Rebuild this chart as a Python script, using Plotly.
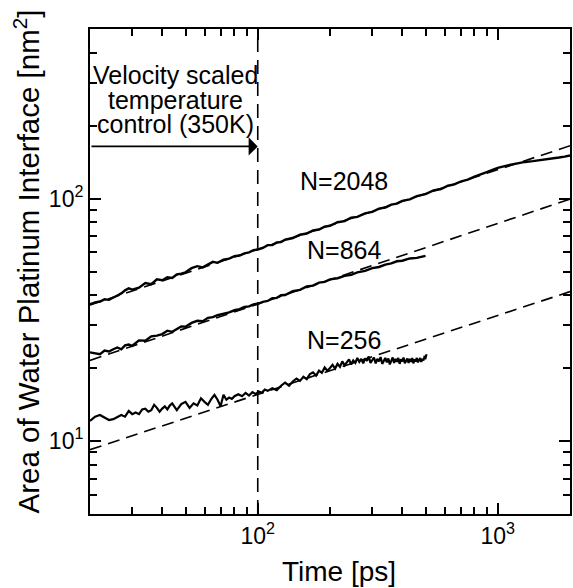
import math
import plotly.graph_objects as go

# ---------------- data ----------------
t_2048 = [20, 21, 22, 23, 24, 25, 26, 27, 28, 29, 30, 32, 34, 36, 38, 40, 42, 44, 46, 48, 50,
          53, 56, 59, 62, 65, 68, 72, 76, 80, 84, 88, 92, 96, 100,
          105, 110, 115, 120, 125, 130, 140, 150, 160, 170, 180, 190, 200, 215, 230, 245, 260,
          280, 300, 320, 340, 360, 380, 400, 430, 460, 500, 540, 580, 620, 660, 700, 750, 800,
          850, 900, 950, 1000, 1100, 1200, 1300, 1400, 1500, 1600, 1700, 1800, 1900, 2000]
a_2048 = [36.6, 37.3, 37.6, 38.4, 38.2, 38.9, 39.8, 40.6, 41.8, 42.6, 42.1, 42.9, 44.8, 44.3, 46.4,
          46.0, 47.3, 47.0, 48.6, 49.0, 49.6,
          51.6, 52.6, 52.0, 53.6, 54.8, 54.3, 55.9, 56.5, 57.8, 58.2, 59.4, 60.0, 61.2, 61.6,
          62.5, 64.2, 64.3, 65.9, 66.1, 67.6, 68.7, 70.9, 71.7, 73.8, 74.5, 76.6, 77.2, 79.8, 80.7,
          83.3, 84.0, 86.9, 88.1, 90.9, 91.8, 94.4, 95.2, 97.8, 99.2, 102.3, 104.2, 107.9, 109.4,
          112.9, 114.3, 117.5, 119.6, 123.0, 125.4, 128.6, 131.2, 133.8, 137.0, 139.8, 141.5,
          142.6, 143.7, 145.2, 146.3, 147.6, 148.9, 150.5]

t_864 = [20, 21, 22, 23, 24, 25, 26, 27, 28, 29, 30, 32, 34, 36, 38, 40, 42, 44, 46, 48, 50,
         53, 56, 59, 62, 65, 68, 72, 76, 80, 84, 88, 92, 96, 100,
         105, 110, 115, 120, 125, 130, 140, 150, 160, 170, 180, 190, 200, 215, 230, 245, 260,
         280, 300, 320, 340, 360, 380, 400, 430, 460, 500]
a_864 = [23.2, 23.0, 22.8, 23.6, 23.4, 23.9, 24.3, 23.9, 24.8, 25.0, 24.7, 26.0, 25.9, 27.0, 27.2,
         27.6, 28.5, 28.2, 28.9, 29.7, 29.6,
         30.7, 31.3, 31.2, 32.2, 32.4, 33.0, 33.4, 33.9, 34.6, 35.0, 35.7, 35.9, 36.6, 36.8,
         37.5, 37.8, 38.8, 38.9, 39.9, 40.0, 41.5, 42.0, 43.4, 43.7, 45.0, 45.3, 46.4, 46.9,
         48.0, 48.4, 49.6, 50.3, 51.6, 52.2, 53.4, 54.0, 55.1, 55.4, 56.6, 56.9, 58.0]

t_256 = [20, 21, 22, 23, 24, 25, 26, 27, 28, 29, 30, 31, 32, 33, 34, 35, 36, 37, 38, 39, 40,
         41, 42, 43, 44, 45, 46, 48, 50, 52, 54, 56, 58, 60, 62, 64, 66, 68, 70, 72, 74, 76,
         78, 80, 83, 86, 89, 92, 95, 98, 101, 104, 107,
         110, 115, 120, 125, 130, 135, 140, 145, 150, 155, 160, 165, 170, 175, 180, 185, 190,
         195, 200, 205, 210, 215, 220, 225, 230, 235, 240, 245, 250, 255, 260, 265, 270, 275,
         280, 285, 290, 295, 300, 305, 310, 315, 320, 325, 330, 335, 340, 345, 350, 355, 360,
         365, 370, 375, 380, 385, 390, 395, 400, 405, 410, 415, 420, 425, 430, 435, 440, 445,
         450, 455, 460, 465, 470, 475, 480, 485, 490, 495, 500, 505]
a_256 = [12.1, 12.6, 12.8, 12.5, 12.2, 12.3, 12.6, 12.8, 12.6, 13.3, 12.9, 13.1, 12.9, 13.5,
         13.6, 13.2, 13.4, 14.1, 13.7, 13.2, 13.6, 13.9, 13.5, 14.0, 14.3, 13.8, 13.4, 14.2,
         14.5, 13.7, 14.3, 14.0, 15.0, 14.5, 14.1, 14.9, 15.5, 14.8, 13.9, 15.5, 14.8, 15.1,
         14.9, 15.3, 15.6, 15.3, 15.8, 15.4, 15.9, 15.6, 16.0, 15.8, 16.3,
         16.1, 16.5, 16.2, 16.9, 17.4, 16.9, 17.6, 18.1, 17.7, 18.4, 18.0, 18.9, 19.2, 18.6,
         19.5, 19.1, 20.1, 19.5, 20.0, 20.6, 19.9, 20.8, 20.2, 21.3, 20.5, 21.1, 21.7, 20.7,
         21.5, 21.0, 22.0, 21.2, 21.8, 20.9, 21.9, 21.4, 22.3, 21.0, 21.7, 22.1, 20.9, 21.8,
         21.3, 22.2, 20.8, 21.6, 22.0, 21.1, 21.9, 20.7, 21.5, 22.1, 21.0, 21.8, 21.2, 22.0,
         20.8, 21.7, 21.3, 22.1, 20.9, 21.6, 21.9, 21.0, 21.8, 21.2, 22.0, 20.9, 21.7, 21.3,
         22.0, 21.1, 21.6, 22.0, 21.2, 21.8, 21.5, 22.2, 22.0, 22.8]

# power-law fits (dashed), end points
fit_t = [20, 2000]
fit_2048 = [36.4, 165.0]
fit_864 = [21.5, 99.4]
fit_256 = [9.21, 41.3]

control_end_time = 100      # end of velocity-scaled temperature control [ps]
arrow_level = 164           # height of the arrow [nm^2]

x_range = [20, 2000]
y_range = [5, 500]
x_major = [100, 1000]
x_major_text = ["10<sup>2</sup>", "10<sup>3</sup>"]
x_minor = [30, 40, 50, 60, 70, 80, 90, 200, 300, 400, 500, 600, 700, 800, 900]
y_major = [10, 100]
y_major_text = ["10<sup>1</sup>", "10<sup>2</sup>"]
y_minor = [6, 7, 8, 9, 20, 30, 40, 50, 60, 70, 80, 90, 200, 300, 400]

labels = ["N=2048", "N=864", "N=256"]
label_pos = [(228, 118.3), (228, 61.4), (228, 26.0)]
control_lines = ["Velocity scaled", "temperature", "control (350K)"]
control_pos = [(45.5, 323), (45.5, 255), (45.5, 203)]

FONT = "Liberation Sans, Arial, sans-serif"
L = math.log10

fig = go.Figure()
dash = "12px,7px"
for fy in (fit_2048, fit_864, fit_256):
    fig.add_trace(go.Scatter(x=fit_t, y=fy, mode="lines",
                             line=dict(color="black", width=1.6, dash=dash),
                             showlegend=False, hoverinfo="skip"))
for tt, aa, w in ((t_2048, a_2048, 2.4), (t_864, a_864, 2.4), (t_256, a_256, 2.2)):
    fig.add_trace(go.Scatter(x=tt, y=aa, mode="lines",
                             line=dict(color="black", width=w),
                             showlegend=False))
fig.add_trace(go.Scatter(x=[control_end_time, control_end_time], y=y_range, mode="lines",
                         line=dict(color="black", width=1.6, dash="14px,8px"),
                         showlegend=False, hoverinfo="skip"))

axis_common = dict(type="log", showline=True, linewidth=2, linecolor="black",
                   mirror="ticks", ticks="inside", ticklen=11, tickwidth=1.5,
                   tickcolor="black", showgrid=False, zeroline=False,
                   tickfont=dict(family=FONT, size=23, color="black"))

fig.update_xaxes(range=[L(x_range[0]), L(x_range[1])], tickmode="array",
                 tickvals=x_major, ticktext=x_major_text,
                 minor=dict(tickmode="array", tickvals=x_minor, ticks="inside",
                            ticklen=7, tickwidth=1.5, tickcolor="black", showgrid=False),
                 **axis_common)
fig.update_yaxes(range=[L(y_range[0]), L(y_range[1])], tickmode="array",
                 tickvals=y_major, ticktext=y_major_text,
                 minor=dict(tickmode="array", tickvals=y_minor, ticks="inside",
                            ticklen=7, tickwidth=1.5, tickcolor="black", showgrid=False),
                 **axis_common)

ann = []
for txt, (px, py) in zip(labels, label_pos):
    ann.append(dict(x=L(px), y=L(py), xref="x", yref="y", text=txt, showarrow=False,
                    font=dict(family=FONT, size=25, color="black"),
                    xanchor="center", yanchor="middle"))
for txt, (px, py) in zip(control_lines, control_pos):
    ann.append(dict(x=L(px), y=L(py), xref="x", yref="y", text=txt, showarrow=False,
                    font=dict(family=FONT, size=25, color="black"),
                    xanchor="center", yanchor="middle"))
# arrow from the left edge to the end of temperature control
ann.append(dict(x=L(control_end_time), y=L(arrow_level), ax=L(x_range[0]), ay=L(arrow_level),
                xref="x", yref="y", axref="x", ayref="y", text="", showarrow=True,
                arrowhead=1, arrowsize=1.9, arrowwidth=1.6, arrowcolor="black", standoff=0))
# axis titles
ann.append(dict(x=-0.132, y=0.52, xref="paper", yref="paper",
                text="Area of Water Platinum Interface [nm<sup>2</sup>]", textangle=-90,
                showarrow=False, font=dict(family=FONT, size=29.5, color="black"),
                xanchor="center", yanchor="middle"))
ann.append(dict(x=0.519, y=-0.118, xref="paper", yref="paper", text="Time [ps]",
                showarrow=False, font=dict(family=FONT, size=28, color="black"),
                xanchor="center", yanchor="middle"))

fig.update_layout(width=573, height=588, margin=dict(l=90, r=1, t=29, b=74),
                  paper_bgcolor="white", plot_bgcolor="white", annotations=ann,
                  showlegend=False)
fig.write_html("out.html", config={"displayModeBar": False},
               post_script="document.body.style.margin='0';document.body.style.padding='0';")
